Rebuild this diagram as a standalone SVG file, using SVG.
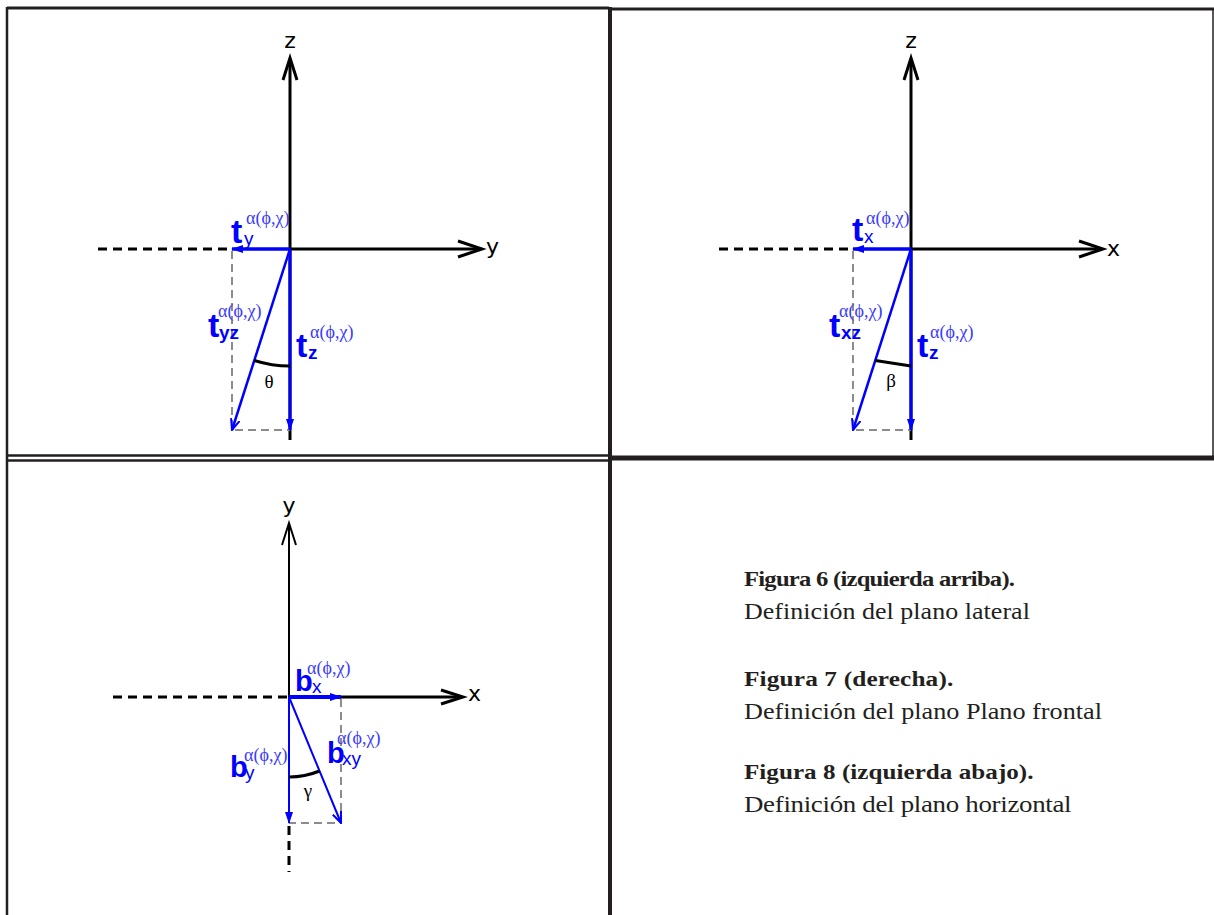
<svg xmlns="http://www.w3.org/2000/svg" width="1214" height="915" viewBox="0 0 1214 915">
<defs>
<style>
.frame{stroke:#231f20;fill:none}
.axis{stroke:#000;fill:none;stroke-width:3}
.axis2{stroke:#000;fill:none;stroke-width:2}
.dash{stroke:#000;fill:none;stroke-width:3;stroke-dasharray:9 6}
.gdash{stroke:#8c8c8c;fill:none;stroke-width:2;stroke-dasharray:8 5}
.vec{stroke:#0000ff;fill:none}
.arc{stroke:#000;fill:none;stroke-width:3}
.axl{font-family:"DejaVu Sans","Liberation Sans",sans-serif;font-size:22px;fill:#000}
.big{font-family:"Liberation Sans",Arial,sans-serif;font-weight:bold;fill:#0000ff}
.sub{font-family:"Liberation Sans",Arial,sans-serif;font-size:19px;fill:#0000ff}
.sup{font-family:"Liberation Serif","DejaVu Serif",serif;font-size:18px;fill:#3a3aff}
.ang{font-family:"Liberation Serif","DejaVu Serif",serif;font-size:19px;fill:#000}
.capb{font-family:"Liberation Serif","Times New Roman",serif;font-weight:bold;font-size:22px;fill:#231f20}
.cap{font-family:"Liberation Serif","Times New Roman",serif;font-size:23px;fill:#231f20}
</style>
<marker id="af" viewBox="0 0 12 8" refX="11" refY="4" markerWidth="12" markerHeight="8" markerUnits="userSpaceOnUse" orient="auto"><path d="M0,0 L12,4 L0,8 z" fill="#0000ff"/></marker>
<marker id="ao" viewBox="0 0 12 10" refX="11" refY="5" markerWidth="12" markerHeight="10" markerUnits="userSpaceOnUse" orient="auto"><path d="M0,0.5 L11,5 L0,9.5" fill="none" stroke="#0000ff" stroke-width="2"/></marker>
</defs>
<rect width="1214" height="915" fill="#fff"/>

<g id="frame">
<line class="frame" x1="7" y1="8" x2="609" y2="8" stroke-width="3"/>
<line class="frame" x1="609" y1="9" x2="1214" y2="9" stroke-width="3"/>
<line class="frame" x1="7" y1="7" x2="7" y2="915" stroke-width="2.5"/>
<line class="frame" x1="610" y1="7" x2="610" y2="915" stroke-width="4"/>
<line class="frame" x1="1213" y1="9" x2="1213" y2="458" stroke-width="1.5"/>
<line class="frame" x1="7" y1="455.5" x2="610" y2="455.5" stroke-width="2.5"/>
<line class="frame" x1="7" y1="460.5" x2="610" y2="460.5" stroke-width="2.5"/>
<line class="frame" x1="610" y1="458" x2="1214" y2="458" stroke-width="5"/>
</g>

<g id="panel-lateral">
<line class="axis" x1="290" y1="59" x2="290" y2="440"/>
<path class="axis" d="M283,80 L290,58 L297,80"/>
<line class="axis" x1="290" y1="249" x2="481" y2="249"/>
<path class="axis" d="M458,241 L482,249 L458,257"/>
<line class="dash" x1="98" y1="249" x2="232" y2="249"/>
<path class="gdash" d="M232,251 L232,430 L290,430"/>
<line class="vec" x1="290" y1="249" x2="232" y2="249" stroke-width="3.5" marker-end="url(#af)"/>
<line class="vec" x1="290" y1="249" x2="290" y2="430" stroke-width="3" marker-end="url(#af)"/>
<line class="vec" x1="290" y1="249" x2="232" y2="430" stroke-width="2.5" marker-end="url(#ao)"/>
<path class="arc" d="M254.3,360.4 A117,117 0 0 0 290,366"/>
<text class="axl" x="290" y="48" text-anchor="middle">z</text>
<text class="axl" x="486" y="254">y</text>
<text class="ang" x="269" y="388" text-anchor="middle">θ</text>
<text class="big" x="231" y="243" font-size="34">t</text><text class="sub" x="244" y="245">y</text><text class="sup" x="246" y="224">α(ϕ,χ)</text>
<text class="big" x="208" y="337" font-size="34">t</text><text class="sub" x="219" y="339" font-weight="bold">yz</text><text class="sup" x="218" y="317">α(ϕ,χ)</text>
<text class="big" x="296" y="357" font-size="34">t</text><text class="sub" x="308" y="359" font-weight="bold">z</text><text class="sup" x="310" y="338">α(ϕ,χ)</text>
</g>

<g id="panel-frontal">
<line class="axis" x1="911" y1="59" x2="911" y2="440"/>
<path class="axis" d="M904,80 L911,58 L918,80"/>
<line class="axis" x1="911" y1="249" x2="1102" y2="249"/>
<path class="axis" d="M1079,241 L1103,249 L1079,257"/>
<line class="dash" x1="719" y1="249" x2="853" y2="249"/>
<path class="gdash" d="M853,251 L853,430 L911,430"/>
<line class="vec" x1="911" y1="249" x2="853" y2="249" stroke-width="3.5" marker-end="url(#af)"/>
<line class="vec" x1="911" y1="249" x2="911" y2="430" stroke-width="3" marker-end="url(#af)"/>
<line class="vec" x1="911" y1="249" x2="853" y2="430" stroke-width="2.5" marker-end="url(#ao)"/>
<line class="arc" x1="875.3" y1="360.4" x2="911" y2="366"/>
<text class="axl" x="911" y="48" text-anchor="middle">z</text>
<text class="axl" x="1107" y="256">x</text>
<text class="ang" x="891" y="387" text-anchor="middle">β</text>
<text class="big" x="852" y="241" font-size="34">t</text><text class="sub" x="864" y="243">x</text><text class="sup" x="866" y="224">α(ϕ,χ)</text>
<text class="big" x="829" y="337" font-size="34">t</text><text class="sub" x="841" y="339" font-weight="bold">xz</text><text class="sup" x="839" y="317">α(ϕ,χ)</text>
<text class="big" x="917" y="357" font-size="34">t</text><text class="sub" x="929" y="359" font-weight="bold">z</text><text class="sup" x="930" y="338">α(ϕ,χ)</text>
</g>

<g id="panel-horizontal">
<line class="axis2" x1="289" y1="524" x2="289" y2="823"/>
<path class="axis2" d="M282,545 L289,523 L296,545"/>
<line class="axis" x1="289" y1="697" x2="462" y2="697"/>
<path class="axis" d="M441,690 L463,697 L441,704"/>
<line class="dash" x1="113" y1="697" x2="289" y2="697"/>
<line class="dash" x1="289" y1="826" x2="289" y2="872" stroke-width="2"/>
<path class="gdash" d="M341,699 L341,823 L289,823"/>
<line class="vec" x1="289" y1="697" x2="341" y2="697" stroke-width="4" marker-end="url(#af)"/>
<line class="vec" x1="289" y1="697" x2="289" y2="823" stroke-width="2" marker-end="url(#af)"/>
<line class="vec" x1="289" y1="697" x2="341" y2="823" stroke-width="2" marker-end="url(#ao)"/>
<path class="arc" d="M289,777 A80,80 0 0 0 319.5,771"/>
<text class="axl" x="289" y="513" text-anchor="middle" font-size="19">y</text>
<text class="axl" x="468" y="701" font-size="19">x</text>
<text class="ang" x="308" y="797" text-anchor="middle">γ</text>
<text class="big" x="295" y="691" font-size="29">b</text><text class="sub" x="312" y="693">x</text><text class="sup" x="307" y="674">α(ϕ,χ)</text>
<text class="big" x="230" y="777" font-size="29">b</text><text class="sub" x="245" y="779">y</text><text class="sup" x="244" y="761">α(ϕ,χ)</text>
<text class="big" x="327" y="763" font-size="29">b</text><text class="sub" x="342" y="765">xy</text><text class="sup" x="337" y="744">α(ϕ,χ)</text>
</g>

<g id="captions">
<text class="capb" transform="translate(744,586) scale(1.12,1)" textLength="242" lengthAdjust="spacing">Figura 6 (izquierda arriba).</text>
<text class="cap" transform="translate(744,619) scale(1.13,1)" textLength="253" lengthAdjust="spacing">Definición del plano lateral</text>
<text class="capb" transform="translate(744,686) scale(1.15,1)" textLength="182" lengthAdjust="spacing">Figura 7 (derecha).</text>
<text class="cap" transform="translate(744,719) scale(1.14,1)" textLength="314" lengthAdjust="spacing">Definición del plano Plano frontal</text>
<text class="capb" transform="translate(744,779) scale(1.14,1)" textLength="254" lengthAdjust="spacing">Figura 8 (izquierda abajo).</text>
<text class="cap" transform="translate(744,812) scale(1.17,1)" textLength="280" lengthAdjust="spacing">Definición del plano horizontal</text>
</g>
</svg>
